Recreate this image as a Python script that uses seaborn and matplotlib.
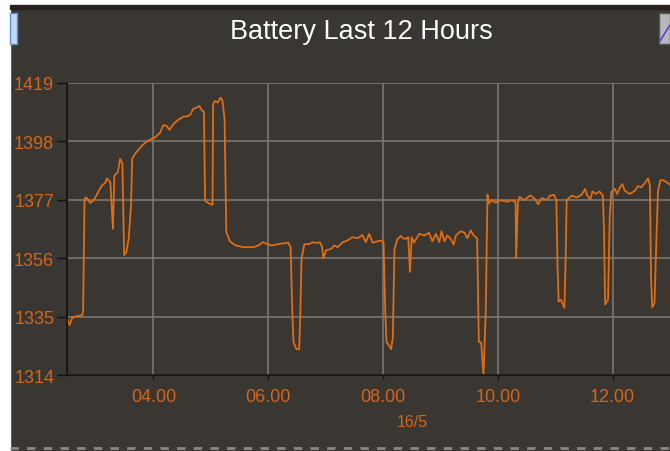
import numpy as np
import pandas as pd
import matplotlib
matplotlib.use('Agg')
import matplotlib.pyplot as plt
import seaborn as sns
from matplotlib.patches import Rectangle
from matplotlib.lines import Line2D

# 시간 (시, 소수) / 배터리 값 - 그림에서 읽은 값
hours = [2.51, 2.54, 2.585, 2.67, 2.76, 2.775, 2.80, 2.83, 2.90, 2.96, 3.02, 3.10, 3.16, 3.19, 3.25,
         3.295, 3.32, 3.38, 3.42, 3.46, 3.49, 3.53, 3.57, 3.61, 3.63, 3.68, 3.77, 3.86, 3.94, 4.03,
         4.12, 4.17, 4.23, 4.28, 4.35, 4.43, 4.52, 4.61, 4.65, 4.69, 4.75, 4.80, 4.84, 4.88, 4.90,
         4.95, 5.03, 5.04, 5.07, 5.12, 5.17, 5.20, 5.24, 5.27, 5.33, 5.39, 5.44,
         5.57, 5.74, 5.83, 5.91, 5.97, 6.06, 6.20, 6.35, 6.39, 6.42, 6.44, 6.49, 6.54, 6.56, 6.58,
         6.63, 6.72, 6.78, 6.85, 6.90, 6.94, 6.96, 7.01, 7.10, 7.15, 7.21, 7.30, 7.38, 7.47, 7.56,
         7.64, 7.70, 7.76, 7.82, 7.90, 7.98, 8.01, 8.04, 8.06, 8.10, 8.14, 8.17, 8.20, 8.25, 8.31,
         8.36, 8.40, 8.44, 8.47, 8.50, 8.54, 8.63, 8.72, 8.80, 8.86, 8.92, 8.98, 9.02, 9.07, 9.12,
         9.18, 9.23, 9.27, 9.35, 9.42, 9.47, 9.53, 9.58, 9.64, 9.67, 9.71, 9.75, 9.79, 9.82, 9.84,
         9.90, 9.96, 10.05, 10.16, 10.25, 10.31, 10.32, 10.35, 10.38, 10.45, 10.57, 10.65, 10.70,
         10.77, 10.85, 10.91, 10.98, 11.02, 11.04, 11.06, 11.10, 11.16, 11.18, 11.20, 11.29, 11.38,
         11.46, 11.52, 11.56, 11.61, 11.65, 11.71, 11.77, 11.83, 11.85, 11.87, 11.92, 11.95, 11.98,
         12.04, 12.08, 12.13, 12.17, 12.21, 12.30, 12.39, 12.44, 12.50, 12.56, 12.62, 12.65, 12.67,
         12.69, 12.73, 12.76, 12.79, 12.83, 12.89, 12.95, 13.00]
battery = [1333.8, 1332.0, 1334.5, 1335.2, 1335.4, 1336.7, 1377.2, 1377.8, 1375.8, 1376.7, 1379.0,
           1382.0, 1383.0, 1384.6, 1383.2, 1366.5, 1385.6, 1386.8, 1391.6, 1389.8, 1357.0, 1358.2,
           1363.0, 1374.9, 1391.6, 1393.4, 1395.7, 1397.5, 1398.5, 1399.3, 1401.1, 1403.7, 1403.5,
           1402.0, 1404.1, 1405.6, 1406.7, 1407.0, 1407.7, 1409.5, 1410.0, 1410.6, 1409.2, 1408.5,
           1376.6, 1375.8, 1375.1, 1411.2, 1412.4, 1411.8, 1413.6, 1412.8, 1405.9, 1365.3, 1362.1,
           1361.1, 1360.5,
           1359.9, 1359.9, 1360.5, 1361.7, 1361.1, 1360.5, 1361.1, 1361.5, 1359.9, 1336.7, 1325.9,
           1323.3, 1323.3, 1336.7, 1355.8, 1360.9, 1361.1, 1361.7, 1361.4, 1361.7, 1359.9, 1356.0,
           1358.8, 1359.3, 1360.5, 1359.9, 1361.7, 1362.3, 1363.5, 1363.1, 1364.3, 1361.7, 1364.7,
           1361.5, 1362.0, 1362.3, 1361.5, 1336.7, 1325.9, 1324.7, 1323.3, 1327.1, 1359.3, 1362.7,
           1363.9, 1363.0, 1362.9, 1363.5, 1351.0, 1363.5, 1361.5, 1364.7, 1364.1, 1365.1, 1362.0,
           1364.7, 1361.7, 1365.6, 1362.0, 1364.1, 1362.9, 1360.8, 1364.1, 1365.6, 1365.1, 1363.1,
           1365.9, 1364.1, 1363.1, 1325.9, 1325.6, 1314.0, 1336.7, 1378.7, 1375.6, 1376.8, 1375.9,
           1376.8, 1376.2, 1376.8, 1375.9, 1356.0, 1375.9, 1378.0, 1376.8, 1378.5, 1377.1, 1375.3,
           1377.5, 1376.8, 1378.4, 1378.7, 1376.8, 1353.6, 1340.4, 1341.0, 1338.1, 1353.6, 1376.8,
           1378.4, 1377.8, 1378.7, 1380.8, 1378.4, 1377.0, 1379.9, 1379.0, 1379.9, 1378.4, 1366.5,
           1339.3, 1341.0, 1370.9, 1379.8, 1380.8, 1379.0, 1381.4, 1382.6, 1380.2, 1379.0, 1380.2,
           1381.8, 1381.4, 1382.9, 1384.6, 1382.0, 1348.8, 1338.3, 1339.8, 1360.5, 1379.8, 1383.9,
           1383.9, 1383.1, 1382.3]

y_ticks = [1314, 1335, 1356, 1377, 1398, 1419]
x_ticks = [4, 6, 8, 10, 12]
x_labels = ['04.00', '06.00', '08.00', '10.00', '12.00']

df = pd.DataFrame({'hour': hours, 'battery': battery})

bg = '#3a3733'
orange = '#de6d14'
label_col = '#d2661a'
grid_col = '#7a7773'

sns.set_theme(style='dark')
plt.rcParams['font.family'] = ['Liberation Sans', 'DejaVu Sans']

fig = plt.figure(figsize=(6.7, 4.52), dpi=100, facecolor=bg)
ax = fig.add_axes([0.0996, 0.1681, 0.9004, 0.647])
ax.set_facecolor(bg)

sns.lineplot(data=df, x='hour', y='battery', ax=ax, color=orange, linewidth=1.3,
             estimator=None, sort=False)

ax.set_xlim(2.49, 13.0)
ax.set_ylim(1314, 1419)
ax.set_xticks(x_ticks)
ax.set_xticklabels(x_labels)
ax.set_yticks(y_ticks)
ax.grid(True, color=grid_col, linewidth=1.2)
ax.set_axisbelow(True)

for s in ['top', 'right']:
    ax.spines[s].set_visible(False)
for s in ['left', 'bottom']:
    ax.spines[s].set_visible(True)
    ax.spines[s].set_color('#111111')
    ax.spines[s].set_linewidth(1.2)

ax.tick_params(axis='y', which='both', left=True, length=7, width=1, color='#111111',
               labelcolor=label_col, labelsize=13, pad=2)
ax.tick_params(axis='x', which='both', bottom=True, length=3, width=1, color='#111111',
               labelcolor=label_col, labelsize=13, pad=6)

ax.set_xlabel('')
ax.set_ylabel('')
fig.text(412 / 670, 1 - 423 / 452, '16/5', color=label_col, fontsize=11.5, ha='center', va='center')
fig.text(361 / 670, 1 - 32 / 452, 'Battery Last 12 Hours', color='white', fontsize=19.5,
         ha='center', va='center')

# 창 테두리 (흰색 여백, 아이콘)
fig.patches.append(Rectangle((0, 0), 10 / 670, 1, transform=fig.transFigure, color='white', zorder=0))
fig.patches.append(Rectangle((0, 1 - 6 / 452), 1, 6 / 452, transform=fig.transFigure, color='white', zorder=0))
fig.patches.append(Rectangle((10 / 670, 1 - 10 / 452), 1, 4 / 452, transform=fig.transFigure,
                             color='#26231f', zorder=0))
fig.patches.append(Rectangle((10 / 670, 1 - 45 / 452), 7 / 670, 31 / 452, transform=fig.transFigure,
                             facecolor='#c8d8f0', edgecolor='#5f8fd8', linewidth=1, zorder=1))
fig.patches.append(Rectangle((659 / 670, 1 - 45 / 452), 11 / 670, 31 / 452, transform=fig.transFigure,
                             facecolor='#b8b8bc', edgecolor='#555555', linewidth=1, zorder=1))
fig.lines.append(Line2D([660 / 670, 670 / 670], [1 - 42 / 452, 1 - 26 / 452], transform=fig.transFigure,
                        color='#4a4ad0', linewidth=1.2))
fig.lines.append(Line2D([10 / 670, 1], [1 - 449 / 452, 1 - 449 / 452], transform=fig.transFigure,
                        color='#8a8784', linewidth=2, linestyle=(0, (3, 3))))

plt.savefig('out.png', dpi=100, facecolor=bg)
